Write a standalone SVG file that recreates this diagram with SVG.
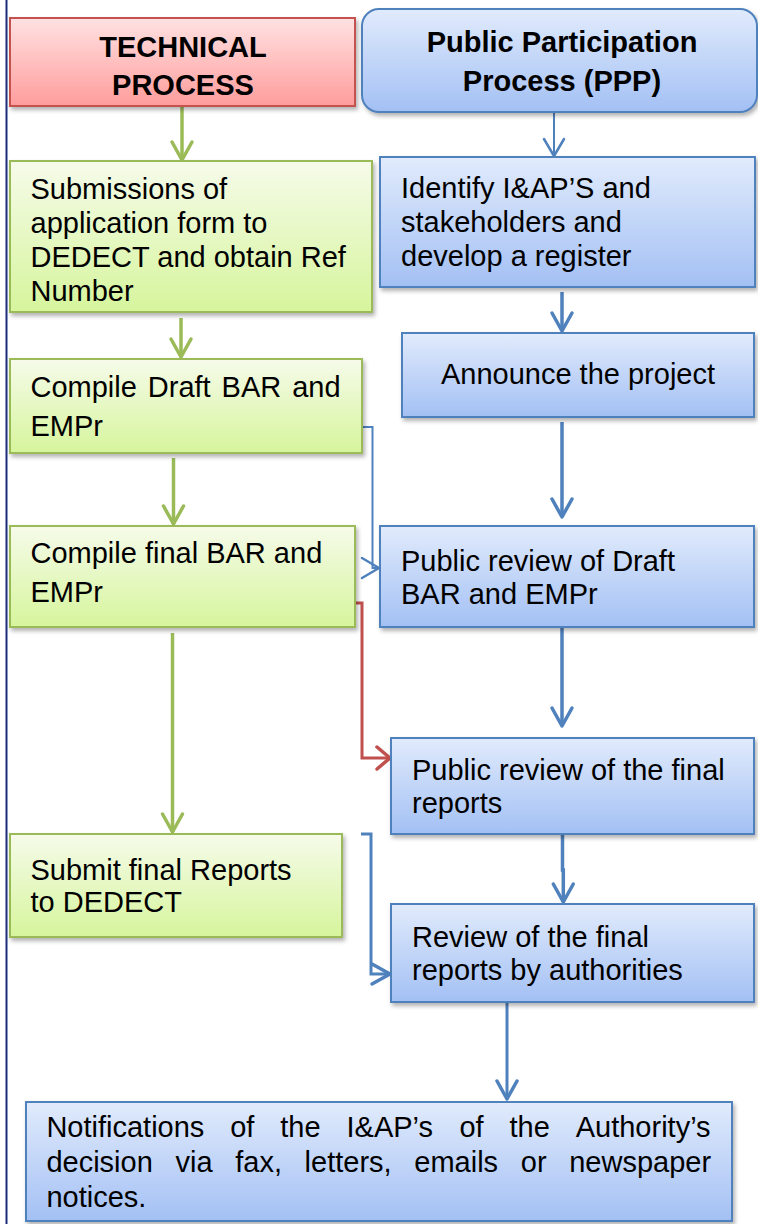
<svg xmlns="http://www.w3.org/2000/svg" width="758" height="1224" viewBox="0 0 758 1224">
<style>
  text { font-family: "Liberation Sans", Arial, sans-serif; font-size: 29px; fill: #000; }
  .b { font-weight: bold; }
  .c { text-anchor: middle; }
  .red { fill: url(#gRed); stroke: #C4524F; stroke-width: 2; }
  .grn { fill: url(#gGrn); stroke: #9BBB59; stroke-width: 2; }
  .blu { fill: url(#gBlu); stroke: #4F81BD; stroke-width: 2; }
  .shd { filter: url(#shadow); }
  .cg { fill: none; stroke: #9BBB59; stroke-width: 3.5; }
  .cb { fill: none; stroke: #4F81BD; stroke-width: 3.5; }
  .cbt { fill: none; stroke: #4F81BD; stroke-width: 2; }
  .cr { fill: none; stroke: #C0504D; stroke-width: 3; }
</style>
<defs>
  <linearGradient id="gRed" x1="0" y1="0" x2="0" y2="1">
    <stop offset="0" stop-color="#FFE2E2"/>
    <stop offset="1" stop-color="#FF9C9C"/>
  </linearGradient>
  <linearGradient id="gGrn" x1="0" y1="0" x2="0" y2="1">
    <stop offset="0" stop-color="#F6FBEA"/>
    <stop offset="1" stop-color="#D6F59C"/>
  </linearGradient>
  <linearGradient id="gBlu" x1="0" y1="0" x2="0" y2="1">
    <stop offset="0" stop-color="#E1EBFC"/>
    <stop offset="1" stop-color="#A3C0F4"/>
  </linearGradient>
  <filter id="shadow" x="-5%" y="-10%" width="115%" height="130%">
    <feDropShadow dx="2" dy="3" stdDeviation="2" flood-color="#000" flood-opacity="0.3"/>
  </filter>
  <marker id="aG" markerUnits="userSpaceOnUse" viewBox="0 0 24 24" markerWidth="24" markerHeight="24" refX="22" refY="12" orient="auto" overflow="visible">
    <path d="M4 2 L22 12 L4 22" fill="none" stroke="#9BBB59" stroke-width="3.5" stroke-linejoin="round" stroke-linecap="round"/>
  </marker>
  <marker id="aB" markerUnits="userSpaceOnUse" viewBox="0 0 24 24" markerWidth="24" markerHeight="24" refX="22" refY="12" orient="auto" overflow="visible">
    <path d="M4 2 L22 12 L4 22" fill="none" stroke="#4F81BD" stroke-width="3.5" stroke-linejoin="round" stroke-linecap="round"/>
  </marker>
  <marker id="aBt" markerUnits="userSpaceOnUse" viewBox="0 0 24 24" markerWidth="24" markerHeight="24" refX="22" refY="12" orient="auto" overflow="visible">
    <path d="M5 2 L22 12 L5 22" fill="none" stroke="#4F81BD" stroke-width="2.5" stroke-linejoin="round" stroke-linecap="round"/>
  </marker>
  <marker id="aR" markerUnits="userSpaceOnUse" viewBox="0 0 24 24" markerWidth="24" markerHeight="24" refX="22" refY="12" orient="auto" overflow="visible">
    <path d="M9 1 L22 12 L9 23" fill="none" stroke="#C0504D" stroke-width="3.5" stroke-linejoin="round" stroke-linecap="round"/>
  </marker>
</defs>

<rect width="758" height="1224" fill="#FFFFFF"/>
<line x1="6.5" y1="0" x2="6.5" y2="1224" stroke="#1A2E7C" stroke-width="2"/>

<g id="connectors">
  <path class="cg" d="M182 106 V160" marker-end="url(#aG)"/>
  <path class="cbt" d="M554 112 V156" marker-end="url(#aBt)"/>
  <path class="cb" d="M562 292 V331" marker-end="url(#aB)"/>
  <path class="cg" d="M181 318 V357" marker-end="url(#aG)"/>
  <path class="cbt" d="M362 427 H372.5 V568 H379" marker-end="url(#aBt)"/>
  <path class="cb" d="M562 422 V517" marker-end="url(#aB)"/>
  <path class="cg" d="M173.5 458 V524" marker-end="url(#aG)"/>
  <path class="cr" d="M355 603 H362 V758 H390" marker-end="url(#aR)"/>
  <path class="cb" d="M562 627 V726" marker-end="url(#aB)"/>
  <path class="cg" d="M172.5 633 V832" marker-end="url(#aG)"/>
  <path class="cb" style="stroke-width:3" d="M361 834 H371 V974 H390" marker-end="url(#aB)"/>
  <path class="cb" d="M562.5 834 V870 H563.3 V902" marker-end="url(#aB)"/>
  <path class="cb" style="stroke-width:3" d="M507 1003 V1099" marker-end="url(#aB)"/>
</g>

<g id="technical-process">
  <rect class="red shd" x="10" y="18" width="345" height="88"/>
  <text class="b c" x="183" y="57">TECHNICAL</text>
  <text class="b c" x="183" y="95">PROCESS</text>
</g>

<g id="ppp">
  <rect class="blu shd" x="362" y="9" width="395" height="103" rx="17" ry="17"/>
  <text class="b c" x="562" y="52">Public Participation</text>
  <text class="b c" x="562" y="91">Process (PPP)</text>
</g>

<g id="submissions">
  <rect class="grn shd" x="10" y="161" width="362" height="151"/>
  <text x="30.5" y="199">Submissions of</text>
  <text x="30.5" y="233">application form to</text>
  <text x="30.5" y="267">DEDECT and obtain Ref</text>
  <text x="30.5" y="301">Number</text>
</g>

<g id="identify">
  <rect class="blu shd" x="380" y="157" width="375" height="130"/>
  <text x="401" y="198">Identify I&amp;AP’S and</text>
  <text x="401" y="232">stakeholders and</text>
  <text x="401" y="266">develop a register</text>
</g>

<g id="compile-draft">
  <rect class="grn shd" x="10" y="359" width="352" height="94"/>
  <text y="397"><tspan x="30.5">Compile</tspan><tspan x="147.8">Draft</tspan><tspan x="221.6">BAR</tspan><tspan x="292.2">and</tspan></text>
  <text x="30.5" y="436">EMPr</text>
</g>

<g id="announce">
  <rect class="blu shd" x="402" y="333" width="352" height="84"/>
  <text class="c" x="578" y="384">Announce the project</text>
</g>

<g id="compile-final">
  <rect class="grn shd" x="10" y="526" width="345" height="101"/>
  <text x="30.5" y="562.5">Compile final BAR and</text>
  <text x="30.5" y="601.5">EMPr</text>
</g>

<g id="review-draft">
  <rect class="blu shd" x="380" y="526" width="374" height="101"/>
  <text x="401" y="571">Public review of Draft</text>
  <text x="401" y="604">BAR and EMPr</text>
</g>

<g id="review-final-public">
  <rect class="blu shd" x="391" y="738" width="363" height="96"/>
  <text x="412" y="780">Public review of the final</text>
  <text x="412" y="813">reports</text>
</g>

<g id="submit-final">
  <rect class="grn shd" x="10" y="834" width="332" height="103"/>
  <text x="30.5" y="880">Submit final Reports</text>
  <text x="30.5" y="912">to DEDECT</text>
</g>

<g id="review-authorities">
  <rect class="blu shd" x="391" y="904" width="363" height="98"/>
  <text x="412" y="947">Review of the final</text>
  <text x="412" y="980">reports by authorities</text>
</g>

<g id="notifications">
  <rect class="blu shd" x="26" y="1102" width="706" height="119"/>
  <text y="1137"><tspan x="46.4">Notifications</tspan><tspan x="230.2">of</tspan><tspan x="280.3">the</tspan><tspan x="346.5">I&amp;AP’s</tspan><tspan x="459.4">of</tspan><tspan x="509.5">the</tspan><tspan x="575.7">Authority’s</tspan></text>
  <text y="1172"><tspan x="46.4">decision</tspan><tspan x="175.5">via</tspan><tspan x="235.3">fax,</tspan><tspan x="304.6">letters,</tspan><tspan x="414.3">emails</tspan><tspan x="520.8">or</tspan><tspan x="569.2">newspaper</tspan></text>
  <text x="46.4" y="1207">notices.</text>
</g>
</svg>
